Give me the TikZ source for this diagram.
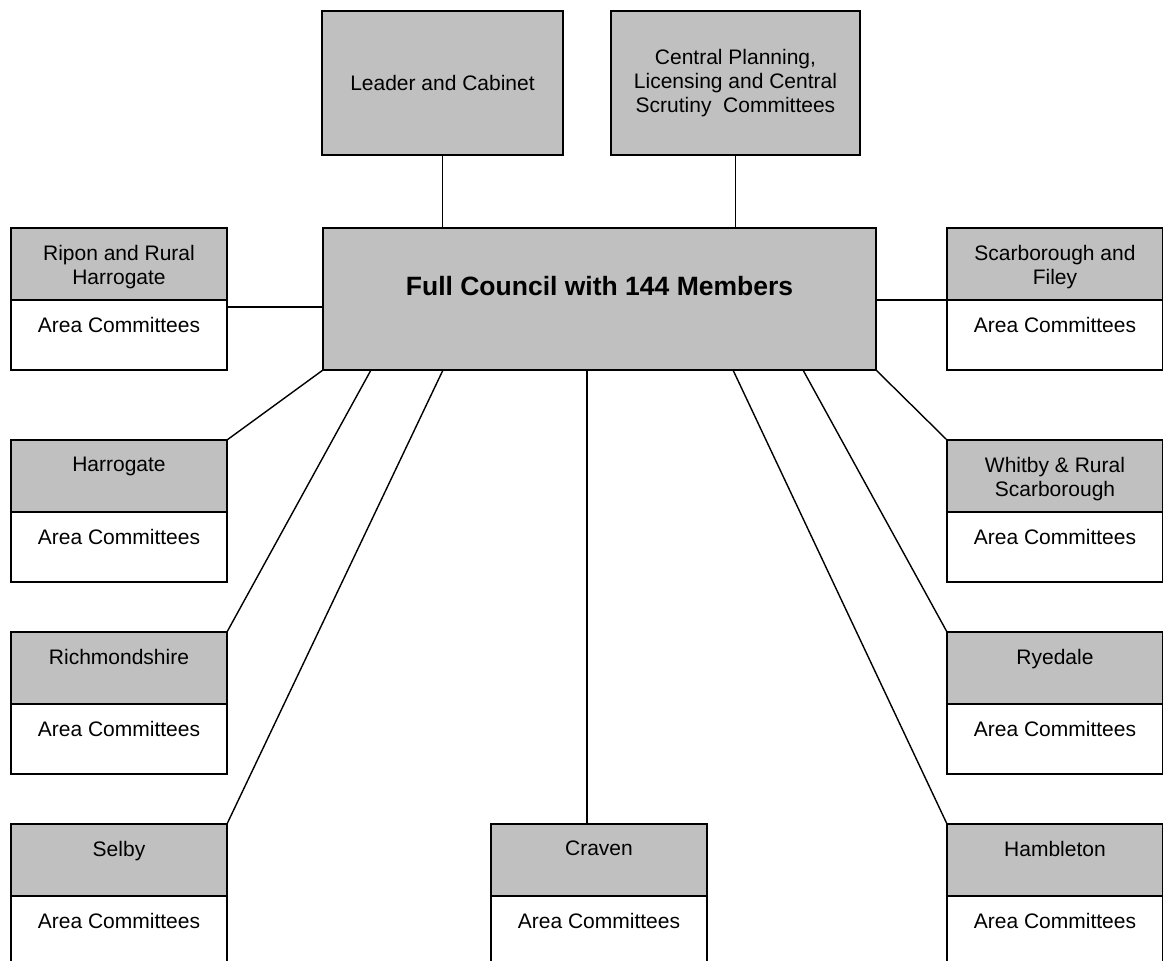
\documentclass[tikz,border=0pt]{standalone}
\usepackage{fontspec}
\setmainfont{Liberation Sans}
\usetikzlibrary{positioning}
\definecolor{boxgray}{HTML}{C0C0C0}

\begin{document}
\begin{tikzpicture}[x=0.5pt,y=-0.5pt,
  font=\fontsize{10.5}{12}\selectfont,
  box/.style={draw,line width=0.9pt,fill=boxgray,inner sep=0pt,outer sep=0pt,align=center},
  hdr/.style={box,anchor=north west,minimum width=108pt,minimum height=36pt},
  body/.style={box,fill=white,minimum width=108pt},
  lbl/.style={anchor=north,inner sep=0pt,align=center},
  link/.style={line width=0.7pt}]
  \path[use as bounding box,clip] (0,0) rectangle (1163,961);
  % top row and council
  \node[box,anchor=north west,minimum width=120.5pt,minimum height=72pt] (leader) at (322,11) {Leader and Cabinet};
  \node[box,anchor=north west,minimum width=124.5pt,minimum height=72pt] (central) at (611,11)
    {Central Planning,\\Licensing and Central\\Scrutiny~ Committees};
  \node[box,anchor=north west,minimum width=276.5pt,minimum height=71pt] (council) at (323,228) {};
  \node[inner sep=0pt,font=\bfseries\fontsize{13.25}{15}\selectfont] (title) at (599.5,286) {Full Council with 144 Members};
  % area boxes
  \foreach \nm/\px/\py/\txt/\bh in {ripon/11/228/{Ripon and Rural\\Harrogate}/35,
      harro/11/440/Harrogate/35, richm/11/632/Richmondshire/35, selby/11/824/Selby/45,
      craven/491/824/Craven/45, hamb/947/824/Hambleton/45, ryed/947/632/Ryedale/35,
      whitby/947/440/{Whitby \& Rural\\Scarborough}/35, scarb/947/228/{Scarborough and\\Filey}/35}{
    \node[hdr] (\nm) at (\px,\py) {};
    \node[body,minimum height=\bh pt,below=0pt of \nm] (\nm-b) {};
    \node[lbl] (\nm-t) at ([yshift=-8.25pt]\nm.north) {\txt};
    \node[lbl] (\nm-a) at ([yshift=-8.25pt]\nm-b.north) {Area Committees};
  }
  % connectors
  \draw[link] (leader.south) -- (leader.south |- council.north);
  \draw[link] (central.south) -- (central.south |- council.north);
  \draw[link] ([yshift=-3.5pt]ripon-b.north east) coordinate (rip) -- (rip -| council.west);
  \draw[link] (scarb.south west) -- (scarb.south west -| council.east);
  \draw[link] (council.south west) -- (harro.north east);
  \draw[link] ([xshift=24pt]council.south west) -- (richm.north east);
  \draw[link] ([xshift=60pt]council.south west) -- (selby.north east);
  \draw[link] ([xshift=132pt]council.south west) coordinate (crv) -- (crv |- craven.north);
  \draw[link] ([xshift=205pt]council.south west) -- (hamb.north west);
  \draw[link] ([xshift=240pt]council.south west) -- (ryed.north west);
  \draw[link] (council.south east) -- (whitby.north west);
\end{tikzpicture}
\end{document}
